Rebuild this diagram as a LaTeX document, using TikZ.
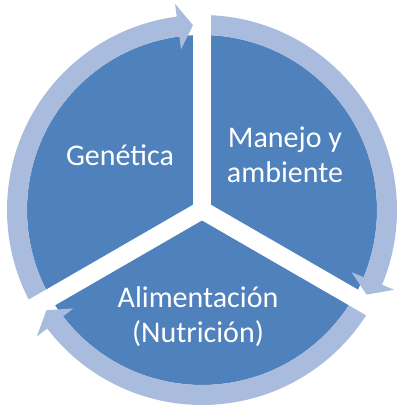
\documentclass[tikz,border=0pt]{standalone}
\usepackage{fontspec}
\setmainfont{Carlito}
\definecolor{pieblue}{RGB}{79,129,189}
\definecolor{ringblue}{RGB}{170,188,222}
\tikzset{
  ringarrow/.style={fill=ringblue,draw=none},
  gapline/.style={white,line width=13.5pt,line cap=butt},
  label/.style={text=white,align=center,font=\fontsize{22.5}{26.25}\selectfont}
}
\begin{document}
\begin{tikzpicture}[x=0.75pt,y=0.75pt]
 \useasboundingbox (-202,-201) rectangle (204,210);
 % pie
 \fill[pieblue] (0,0) circle[radius=175];
 % ring arrows, clockwise
 \fill[ringarrow] (90:195) arc[start angle=90,end angle=-22.56,radius=195] -- (-22.56:208) -- (-27.21:185) -- (-22.56:162) -- (-22.56:175) arc[start angle=-22.56,end angle=90,radius=175] -- cycle;
 \fill[ringarrow] (-30:195) arc[start angle=-30,end angle=-142.56,radius=195] -- (-142.56:208) -- (-147.21:185) -- (-142.56:162) -- (-142.56:175) arc[start angle=-142.56,end angle=-30,radius=175] -- cycle;
 \fill[ringarrow] (210:195) arc[start angle=210,end angle=97.44,radius=195] -- (97.44:208) -- (92.79:185) -- (97.44:162) -- (97.44:175) arc[start angle=97.44,end angle=210,radius=175] -- cycle;
 % gaps
 \draw[gapline] (0,0) -- (90:200);
 \draw[gapline] (0,0) -- (-30:200);
 \draw[gapline] (0,0) -- (210:200);
 % texts
 \node[label] (genetica) at (-82,55) {Genética};
 \node[label] (manejo) at (83,55) {Manejo y\\ambiente};
 \node[label] (alimentacion) at (-4,-107) {Alimentación\\(Nutrición)};
\end{tikzpicture}
\end{document}
